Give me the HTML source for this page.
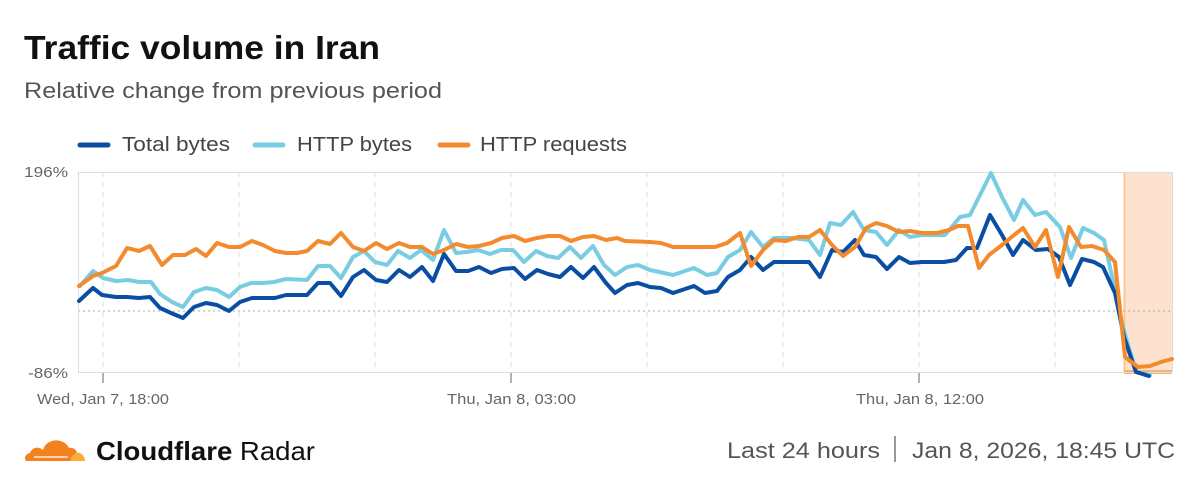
<!DOCTYPE html>
<html><head><meta charset="utf-8"><style>
html,body{margin:0;padding:0;background:#fff;width:1200px;height:488px;overflow:hidden}
svg{display:block;font-family:"Liberation Sans",sans-serif}
</style></head><body>
<svg width="1200" height="488" viewBox="0 0 1200 488">
<text x="24" y="59" font-size="33" font-weight="bold" fill="#111" textLength="356" lengthAdjust="spacingAndGlyphs">Traffic volume in Iran</text>
<text x="24" y="98" font-size="22" fill="#555" textLength="418" lengthAdjust="spacingAndGlyphs">Relative change from previous period</text>
<line x1="80" y1="145" x2="108" y2="145" stroke="#0a4ea3" stroke-width="5" stroke-linecap="round"/>
<text x="122" y="151" font-size="20" fill="#444" textLength="108" lengthAdjust="spacingAndGlyphs">Total bytes</text>
<line x1="255" y1="145" x2="283" y2="145" stroke="#79cde3" stroke-width="5" stroke-linecap="round"/>
<text x="297" y="151" font-size="20" fill="#444" textLength="115" lengthAdjust="spacingAndGlyphs">HTTP bytes</text>
<line x1="440" y1="145" x2="468" y2="145" stroke="#f38b2c" stroke-width="5" stroke-linecap="round"/>
<text x="480" y="151" font-size="20" fill="#444" textLength="147" lengthAdjust="spacingAndGlyphs">HTTP requests</text>

<rect x="1124" y="172" width="48" height="200" fill="#fde3cf"/>
<line x1="1124.5" y1="172" x2="1124.5" y2="372" stroke="#fbc98f" stroke-width="2"/>
<rect x="1124" y="370" width="48" height="4" fill="#f7b27a"/>
<g stroke="#ddd" stroke-width="1" stroke-dasharray="5,5">
<line x1="103" y1="172" x2="103" y2="372"/><line x1="239" y1="172" x2="239" y2="372"/>
<line x1="375" y1="172" x2="375" y2="372"/><line x1="511" y1="172" x2="511" y2="372"/>
<line x1="647" y1="172" x2="647" y2="372"/><line x1="783" y1="172" x2="783" y2="372"/>
<line x1="919" y1="172" x2="919" y2="372"/><line x1="1055" y1="172" x2="1055" y2="372"/>
</g>
<line x1="78" y1="311" x2="1172" y2="311" stroke="#aaa" stroke-width="1" stroke-dasharray="2,3"/>
<line x1="78" y1="172.5" x2="1172" y2="172.5" stroke="#ddd"/>
<line x1="78" y1="372.5" x2="1172" y2="372.5" stroke="#ddd"/>
<line x1="78.5" y1="172" x2="78.5" y2="372" stroke="#ddd"/>
<line x1="1172.5" y1="172" x2="1172.5" y2="372" stroke="#ddd"/>
<g stroke="#999" stroke-width="1.5"><line x1="103" y1="373" x2="103" y2="383"/><line x1="511" y1="373" x2="511" y2="383"/><line x1="919" y1="373" x2="919" y2="383"/></g>
<text x="24" y="177" font-size="15" fill="#666" textLength="44" lengthAdjust="spacingAndGlyphs">196%</text>
<text x="28" y="378" font-size="15" fill="#666" textLength="40" lengthAdjust="spacingAndGlyphs">-86%</text>
<g font-size="15" fill="#666">
<text x="37" y="404" textLength="132" lengthAdjust="spacingAndGlyphs">Wed, Jan 7, 18:00</text><text x="447" y="404" textLength="129" lengthAdjust="spacingAndGlyphs">Thu, Jan 8, 03:00</text><text x="856" y="404" textLength="128" lengthAdjust="spacingAndGlyphs">Thu, Jan 8, 12:00</text></g>

<g fill="none" stroke-width="4" stroke-linejoin="round" stroke-linecap="round">
<polyline stroke="#79cde3" points="80,286 93,271 103,278 116,281 128,280 139,282 151,282 160,294 172,302 183,307 194,292 206,288 217,290 229,297 240,287 251,283 263,283 274,282 286,279 307,280 318,266 330,266 341,278 353,257 364,251 375,262 387,265 398,251 410,258 421,250 433,260 444,230 456,253 467,252 478,250 490,254 501,250 513,250 524,262 536,251 547,256 558,258 570,247 581,258 593,246 604,265 615,275 627,267 638,265 650,270 673,275 694,268 707,275 717,273 728,257 740,250 751,232 763,247 774,238 792,238 809,240 820,255 830,223 841,225 853,212 864,230 876,232 887,245 899,230 910,237 922,235 945,235 960,217 970,215 991,173 1002,197 1014,220 1023,200 1035,215 1046,212 1060,227 1071,258 1083,228 1094,233 1104,240 1115,290 1123,327 1136,372 1150,375"/>
<polyline stroke="#0a4ea3" points="79,301 93,288 102,295 116,297 127,297 139,298 150,297 160,308 171,313 183,318 194,307 206,303 217,305 229,311 240,302 252,298 275,298 286,295 307,295 318,283 330,283 341,296 353,277 364,270 376,280 387,282 399,270 410,277 422,267 433,281 444,254 456,271 468,271 479,267 491,273 502,269 514,268 525,279 537,270 548,274 560,277 571,267 583,278 594,267 606,283 615,293 627,285 638,283 650,287 661,288 673,293 694,286 705,293 717,291 728,277 740,270 751,257 763,270 774,262 809,262 820,277 832,250 843,252 855,240 864,255 876,257 887,269 899,257 910,263 922,262 944,262 956,260 967,248 977,248 990,215 1002,235 1013,255 1023,240 1036,250 1048,249 1059,257 1070,285 1082,259 1094,262 1103,267 1115,293 1124,337 1136,372 1149,376"/>
<polyline stroke="#f38b2c" points="79,286 93,276 102,273 116,266 127,248 139,251 150,246 162,265 173,255 185,255 196,249 206,256 217,243 229,247 240,247 252,241 263,245 275,251 286,253 297,253 307,251 318,241 330,244 341,233 353,247 364,251 376,243 387,249 399,243 410,247 422,247 433,254 444,250 456,244 468,247 479,246 491,243 502,238 514,236 525,241 537,238 548,236 560,236 571,241 583,237 594,236 606,240 617,238 625,241 650,242 661,243 673,247 715,247 727,243 740,233 751,266 763,250 774,240 786,241 798,237 809,237 820,230 832,245 843,256 855,247 866,228 876,223 887,226 899,232 910,231 922,233 937,233 949,230 958,226 968,226 979,268 989,255 1002,245 1014,235 1023,228 1035,247 1046,230 1058,277 1069,227 1081,247 1092,246 1104,250 1115,262 1125,357 1138,367 1150,366 1161,362 1172,359"/>
</g>

<g transform="translate(24,433)">
<path d="M3 28 C0 28 0 21 6 20 C8 14 15 13 19 17 C22 5 40 4 45 15 C48 14 53 16 53 21 C58 21 60 25 60 28 Z" fill="#f48120"/>
<path d="M46 28 C47 22 52 19 56 20 C59 21 61 25 61 28 Z" fill="#faad3f"/>
<line x1="10" y1="24" x2="44" y2="24" stroke="#fff" stroke-width="1.2"/>
</g>
<text x="96" y="460" font-size="26" fill="#111" textLength="219" lengthAdjust="spacingAndGlyphs"><tspan font-weight="bold">Cloudflare</tspan> Radar</text>
<text x="727" y="458" font-size="22" fill="#555" textLength="153" lengthAdjust="spacingAndGlyphs">Last 24 hours</text>
<line x1="895" y1="436" x2="895" y2="462" stroke="#777" stroke-width="1.5"/>
<text x="912" y="458" font-size="22" fill="#555" textLength="263" lengthAdjust="spacingAndGlyphs">Jan 8, 2026, 18:45 UTC</text>
</svg>
</body></html>
